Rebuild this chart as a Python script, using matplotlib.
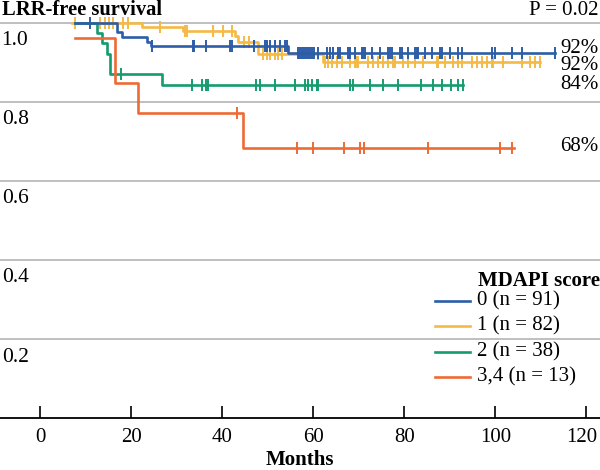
import matplotlib
matplotlib.use("Agg")
import matplotlib.pyplot as plt
import matplotlib.transforms as mtransforms
import numpy as np

plt.rcParams["font.family"] = ["Liberation Serif", "DejaVu Serif"]

groups = ["0 (n = 91)", "1 (n = 82)", "2 (n = 38)", "3,4 (n = 13)"]
colors = ["#2D5DA8", "#F5BA45", "#159C6E", "#EE6A35"]
end_labels = ["92%", "92%", "84%", "68%"]
end_label_y = [0.934, 0.892, 0.843, 0.686]

# step curves: months where the survival changes, and the value from there on
t_0 = [7.6, 16.9, 17.9, 23.5, 24.2, 54.5, 113.1]
s_0 = [1.0, 0.976, 0.964, 0.950, 0.940, 0.924, 0.924]
c_0 = [10.9, 24.5, 33.5, 33.8, 36.4, 41.7, 42.0, 46.9, 49.4, 49.8, 50.5, 51.6,
       52.7, 53.8, 54.2, 56.6, 57.1, 57.5, 57.9, 58.4, 58.8, 59.3, 59.7, 60.1,
       61.0, 63.0, 63.6, 64.3, 65.4, 65.9, 67.6, 67.8, 68.1, 69.1, 70.7, 71.0,
       71.3, 72.9, 74.6, 76.4, 76.8, 77.3, 79.0, 79.5, 80.8, 82.3, 82.8, 83.0,
       84.5, 86.1, 87.8, 88.3, 90.0, 91.8, 92.7, 99.3, 99.9, 103.6, 105.8, 113.1]

t_1 = [6.9, 22.3, 31.3, 42.8, 43.4, 47.8, 62.1, 109.8]
s_1 = [1.0, 0.990, 0.979, 0.966, 0.952, 0.921, 0.901, 0.901]
c_1 = [7.6, 13.1, 14.1, 15.1, 16.0, 18.2, 19.3, 26.3, 31.8, 32.3, 38.0, 40.1,
       42.1, 44.7, 45.8, 49.0, 49.7, 50.5, 51.6, 52.3, 53.0, 61.1, 62.5, 63.3,
       64.1, 65.1, 66.3, 68.0, 69.1, 69.6, 69.8, 72.0, 73.1, 74.2, 75.3, 76.4,
       77.5, 77.7, 77.9, 79.7, 80.8, 82.3, 84.1, 87.2, 87.4, 88.9, 90.7, 91.8,
       92.7, 94.9, 96.0, 97.1, 98.2, 99.3, 99.5, 101.7, 105.8, 107.6, 108.7, 109.8]

t_2 = [7.6, 12.4, 13.5, 14.6, 15.3, 26.7, 92.9]
s_2 = [1.0, 0.973, 0.948, 0.922, 0.870, 0.842, 0.842]
c_2 = [17.7, 33.3, 35.5, 36.4, 36.9, 47.4, 48.3, 51.6, 56.0, 58.2, 58.9, 59.6,
       60.8, 61.1, 68.0, 68.7, 72.4, 75.3, 78.6, 83.7, 86.3, 88.3, 90.2, 91.8, 92.9]

t_3 = [7.6, 16.4, 21.5, 44.6, 104.0]
s_3 = [0.962, 0.848, 0.771, 0.684, 0.684]
c_3 = [43.1, 56.3, 60.0, 66.8, 70.2, 71.2, 85.1, 101.0, 103.6]

times = [t_0, t_1, t_2, t_3]
surv = [s_0, s_1, s_2, s_3]
cens = [c_0, c_1, c_2, c_3]

fig = plt.figure(figsize=(6, 4.7), dpi=100)
ax = fig.add_axes([0, 0.1096, 1, 0.8904])
ax.set_xlim(-8.9, 123)
ax.set_ylim(0, 1.0573)
for sp in ["top", "left", "right"]:
    ax.spines[sp].set_visible(False)
ax.spines["bottom"].set_linewidth(1.3)

for v in [0.2, 0.4, 0.6, 0.8, 1.0]:
    ax.axhline(v, color="#b4b4b4", lw=1.2, zorder=0)
    ax.annotate(f"{v:.1f}", xy=(0, v), xycoords=("axes fraction", "data"),
                xytext=(1.2, -16), textcoords="offset points",
                ha="left", va="baseline", fontsize=15.5)

ax.set_yticks([])
ax.set_xticks(range(0, 121, 20))
ax.tick_params(axis="x", direction="in", length=8.5, width=1.2, pad=7,
               labelsize=15)
ax.set_xlabel("Months", fontsize=15, fontweight="bold", labelpad=2)
# keep "120" inside the frame
last = ax.get_xticklabels()[-1]
last.set_transform(last.get_transform() +
                   mtransforms.ScaledTranslation(-3 / 72, 0, fig.dpi_scale_trans))

for i in [1, 2, 3, 0]:
    t = np.array(times[i]); s = np.array(surv[i]); c = np.array(cens[i])
    ax.plot(t, s, drawstyle="steps-post", color=colors[i], lw=1.9)
    cy = s[np.searchsorted(t, c, side="right") - 1]
    ax.plot(c, cy, ls="none", marker="|", ms=8.5, mew=1.4, color=colors[i])

for lab, y in zip(end_labels, end_label_y):
    ax.text(0.997, y, lab, transform=ax.get_yaxis_transform(), ha="right",
            va="center", fontsize=15)

fig.text(0.003, 1 - 15 / 470, "LRR-free survival", ha="left", va="baseline",
         fontsize=14.8, fontweight="bold")
fig.text(0.997, 1 - 15 / 470, "P = 0.02", ha="right", va="baseline", fontsize=15)

# legend
ax.text(0.797, 0.3286, "MDAPI score", transform=ax.transAxes, ha="left",
        va="center", fontsize=15, fontweight="bold")
leg_y = [0.2815, 0.221, 0.160, 0.100]
for i, y in enumerate(leg_y):
    ax.plot([0.725, 0.783], [y, y], transform=ax.transAxes, color=colors[i], lw=1.9)
    ax.text(0.795, y, groups[i], transform=ax.transAxes, ha="left", va="center",
            fontsize=15)

fig.savefig("out.png", dpi=100)
